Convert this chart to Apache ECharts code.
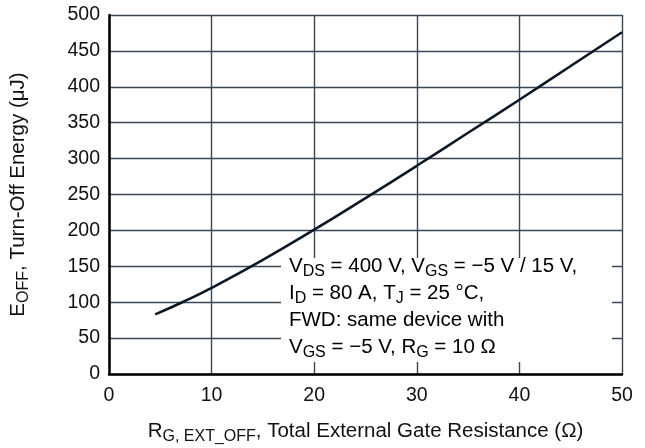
<!DOCTYPE html>
<html><head><meta charset="utf-8">
<script src="https://cdn.jsdelivr.net/npm/echarts@6/dist/echarts.min.js"></script>
<style>html,body{margin:0;padding:0;background:#fff}#c{width:645px;height:448px}</style>
</head><body><div id="c"></div>
<script>
const rg = [4.5, 7.3, 10, 15, 20, 25, 30, 35, 40, 45, 50];
const eoff = [83, 101, 120, 159, 201, 245, 290, 336, 382, 429, 476];
const xTicks = [0, 10, 20, 30, 40, 50];
const yTicks = [0, 50, 100, 150, 200, 250, 300, 350, 400, 450, 500];

const FONT = '"Liberation Sans", Arial, sans-serif';
const gridColor = '#3a4653';
const chart = echarts.init(document.getElementById('c'));
const subStyle = {fontFamily: FONT, fontSize: 16, color: '#111', verticalAlign: 'bottom', lineHeight: 17};
const mainStyle = {fontFamily: FONT, fontSize: 20.5, color: '#111', lineHeight: 27};
chart.setOption({
  animation: false,
  grid: {left: 109, right: 23, top: 15, bottom: 74, containLabel: false, outerBoundsMode: 'none'},
  xAxis: {
    type: 'value', min: xTicks[0], max: xTicks[xTicks.length - 1], interval: 10,
    axisLine: {show: true, lineStyle: {color: '#000', width: 2.5}},
    axisTick: {show: false},
    axisLabel: {fontFamily: FONT, fontSize: 19.5, color: '#111', margin: 12},
    splitLine: {show: true, lineStyle: {color: gridColor, width: 1.4}},
    name: '{m|R}{s|G, EXT_OFF}{m|, Total External Gate Resistance (Ω)}',
    nameLocation: 'middle', nameGap: 44,
    nameTextStyle: {rich: {m: mainStyle, s: subStyle}}
  },
  yAxis: {
    type: 'value', min: yTicks[0], max: yTicks[yTicks.length - 1], interval: 50,
    axisLine: {show: true, lineStyle: {color: '#000', width: 2.5}},
    axisTick: {show: false},
    axisLabel: {fontFamily: FONT, fontSize: 19.5, color: '#111', margin: 9},
    splitLine: {show: true, lineStyle: {color: gridColor, width: 1.4}},
    name: '{m|E}{s|OFF}{m|, Turn-Off Energy (μJ)}',
    nameLocation: 'middle', nameGap: 77, nameRotate: 90,
    nameTextStyle: {rich: {m: mainStyle, s: subStyle}}
  },
  series: [{
    type: 'line', smooth: true, symbol: 'none',
    data: rg.map((x, i) => [x, eoff[i]]),
    lineStyle: {color: '#0b1826', width: 2.6},
    z: 3
  }],
  graphic: [{
    type: 'rect', z: 10, shape: {x: 281, y: 258, width: 331, height: 104},
    style: {fill: '#fff'}
  }, {
    type: 'text', z: 11, left: 289, top: 256,
    style: {
      text: '{m|V}{s|DS}{m| = 400 V, V}{s|GS}{m| = −5 V / 15 V,}\n{m|I}{s|D}{m| = 80 A, T}{s|J}{m| = 25 °C,}\n{m|FWD: same device with}\n{m|V}{s|GS}{m| = −5 V, R}{s|G}{m| = 10 Ω}',
      rich: {m: mainStyle, s: subStyle}
    }
  }]
});
</script></body></html>
